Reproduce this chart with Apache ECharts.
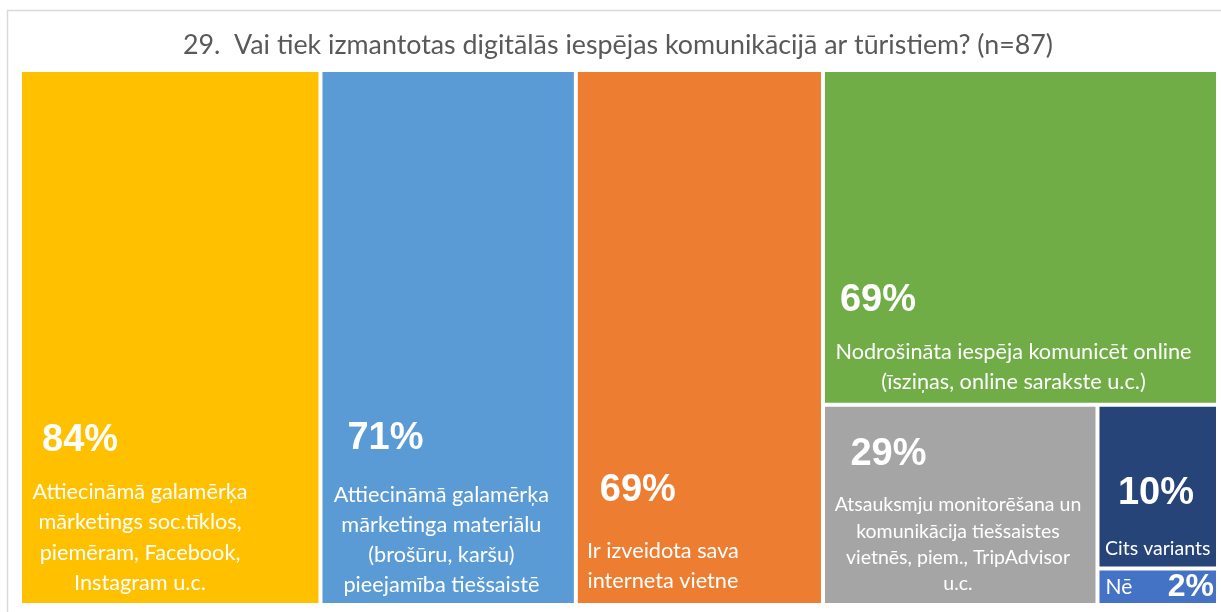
<!DOCTYPE html>
<html>
<head>
<meta charset="utf-8">
<script src="https://cdn.jsdelivr.net/npm/echarts@6/dist/echarts.min.js"></script>
<style>
html,body{margin:0;padding:0;background:#fff;}
#main{width:1221px;height:612px;}
</style>
</head>
<body>
<div id="main"></div>
<script>
var chartTitle = '29.  Vai tiek izmantotas digitālās iespējas komunikācijā ar tūristiem? (n=87)';
var categories = [
    'Attiecināmā galamērķa\nmārketings soc.tīklos,\npiemēram, Facebook,\nInstagram u.c.',
    'Attiecināmā galamērķa\nmārketinga materiālu\n(brošūru, karšu)\npieejamība tiešsaistē',
    'Ir izveidota sava\ninterneta vietne',
    'Nodrošināta iespēja komunicēt online\n(īsziņas, online sarakste u.c.)',
    'Atsauksmju monitorēšana un\nkomunikācija tiešsaistes\nvietnēs, piem., TripAdvisor\nu.c.',
    'Cits variants',
    'Nē'
];
// share of respondents, % (tile sizes); labels show them rounded
var values = [83.9, 71.3, 69.0, 69.0, 28.7, 10.3, 2.3];
var colors = ['#FFC000', '#5B9BD5', '#ED7D31', '#70AD47', '#A5A5A5', '#264478', '#4472C4'];

// where the label block sits inside each tile (padding top/right/left, indent of the %, height of the % line)
var labelBox = [
    {top: 333, right: 62.5, left: 2, indent: 18, pct: 71.5, size: 21.7, lh: 30.5},
    {top: 325.5, right: 16, left: 2.5, indent: 22.5, pct: 82.5, size: 21.7, lh: 30},
    {top: 373, right: 74.5, left: 1.5, indent: 20.5, pct: 91.5, size: 21.7, lh: 29.5},
    {top: 192, right: 15, left: 1, indent: 14, pct: 73.5, size: 21.7, lh: 30},
    {top: 9.5, right: 6, left: 1.5, indent: 24, pct: 75.7, size: 19.5, lh: 26.3},
    {top: 47, right: 1.5, left: 1.5, indent: 17, pct: 79.5, size: 19.5, lh: 30.5},
    {top: 3, right: 2, left: 6, indent: 0, pct: 28, size: 21, lh: 28}
];

var pctFont = "'Liberation Sans', Arial, sans-serif";
var txtFont = "Lato, 'Open Sans', sans-serif";

var data = [];
for (var i = 0; i < values.length; i++) {
    var b = labelBox[i];
    var small = i === values.length - 1;
    data.push({
        name: categories[i],
        value: values[i],
        itemStyle: {color: colors[i]},
        label: {
            padding: [b.top, b.right, 0, b.left],
            formatter: small
                ? function (p) { return '{n|' + p.name + '}{q|' + Math.round(p.value) + '%}'; }
                : function (p) { return '{p|' + Math.round(p.value) + '%}\n{t|' + p.name + '}'; },
            rich: {
                p: {fontFamily: pctFont, fontWeight: 'bold', fontSize: 38, color: '#fff',
                    lineHeight: b.pct, align: 'left', padding: [0, 0, 0, b.indent]},
                t: {fontFamily: txtFont, fontSize: b.size, color: '#fff', lineHeight: b.lh, align: 'center'},
                n: {fontFamily: txtFont, fontSize: b.size, color: '#fff', lineHeight: b.lh, align: 'left'},
                q: {fontFamily: pctFont, fontWeight: 'bold', fontSize: 32, color: '#fff', lineHeight: b.lh, align: 'right'}
            }
        }
    });
}

var chart = echarts.init(document.getElementById('main'));
chart.setOption({
    animation: false,
    title: {
        text: chartTitle,
        left: 618,
        top: 32,
        padding: 0,
        textAlign: 'center',
        textStyle: {fontFamily: txtFont, fontSize: 26.8, fontWeight: 'normal', color: '#595959'}
    },
    graphic: [{
        type: 'rect',
        shape: {x: 7.5, y: 10.5, width: 1240, height: 640},
        style: {fill: null, stroke: '#D9D9D9', lineWidth: 1.5},
        silent: true,
        z: -10
    }],
    series: [{
        type: 'treemap',
        left: 22,
        top: 72,
        width: 1194,
        height: 531,
        roam: false,
        nodeClick: false,
        sort: false,
        squareRatio: 0.7,
        breadcrumb: {show: false},
        itemStyle: {gapWidth: 4, borderWidth: 0, borderColor: '#fff'},
        label: {show: true, position: 'insideTopLeft', distance: 0, color: '#fff'},
        data: data
    }]
});
</script>
</body>
</html>
